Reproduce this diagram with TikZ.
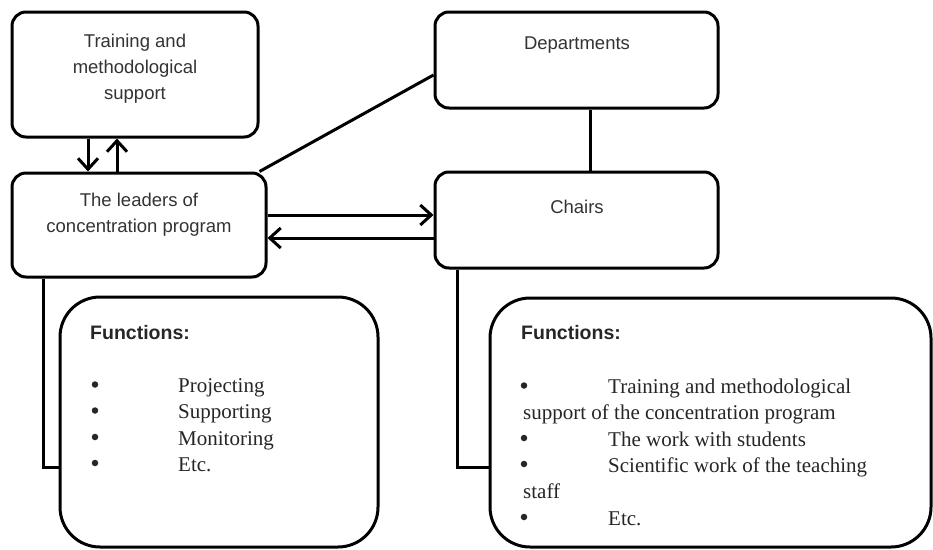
\documentclass[tikz,border=0pt]{standalone}
\usepackage{fontspec}
\setmainfont{Liberation Sans}
\newfontfamily\serifit{Liberation Serif}
\usetikzlibrary{arrows.meta}
\begin{document}
\begin{tikzpicture}[x=1pt,y=-1pt,
  box/.style={draw, line width=3pt, rounded corners=14pt, inner sep=0pt},
  funcbox/.style={box, rounded corners=40pt},
  lbl/.style={font=\fontsize{18.5}{26}\selectfont, align=center, text=black!80, inner sep=0pt},
  head/.style={font=\bfseries\fontsize{19.5}{23}\selectfont, anchor=west, inner sep=0pt, text=black!85},
  item/.style={font=\serifit\fontsize{21}{26}\selectfont, anchor=west, inner sep=0pt, text height=14pt, text depth=5pt, text=black!85},
  bul/.style={circle, fill=black!85, inner sep=0pt, minimum size=6.5pt, yshift=3.5pt},
  conn/.style={line width=3pt},
  arr/.style={conn, -{Straight Barb[length=11pt,width=20pt]}}]
\useasboundingbox (0,0) rectangle (933,549);
\fill[white] (0,0) rectangle (933,549);
% boxes
\node[box, minimum width=246pt, minimum height=125pt] (train) at (135,74.5) {};
\node[box, minimum width=254pt, minimum height=104pt] (lead) at (139,225) {};
\node[box, minimum width=283pt, minimum height=96pt] (dept) at (576.5,60) {};
\node[box, minimum width=283pt, minimum height=96pt] (chairs) at (576.5,220) {};
\node[funcbox, minimum width=318pt, minimum height=250pt] (funcL) at (219,422) {};
\node[funcbox, minimum width=441pt, minimum height=249pt] (funcR) at (710.5,422.5) {};
% labels
\node[lbl] (trainT) at (135,69) {Training and\\methodological\\support};
\node[lbl] (leadT) at (139,215) {The leaders of\\concentration program};
\node[lbl] (deptT) at (577,45) {Departments};
\node[lbl] (chairsT) at (577,207) {Chairs};
% left functions
\node[head] (fLh) at (90,333) {Functions:};
\node[bul] (bL1) at (95,388) {};
\node[item] (tL1) at (178,388) {Projecting};
\node[bul] (bL2) at (95,414) {};
\node[item] (tL2) at (178,414) {Supporting};
\node[bul] (bL3) at (95,440.5) {};
\node[item] (tL3) at (178,440.5) {Monitoring};
\node[bul] (bL4) at (95,466.5) {};
\node[item] (tL4) at (178,466.5) {Etc.};
% right functions
\node[head] (fRh) at (521,333) {Functions:};
\node[bul] (bR1) at (524,389) {};
\node[item] (tR1) at (608,389) {Training and methodological};
\node[item] (tR1b) at (523,415) {support of the concentration program};
\node[bul] (bR2) at (524,441.5) {};
\node[item] (tR2) at (608,441.5) {The work with students};
\node[bul] (bR3) at (524,467.5) {};
\node[item] (tR3) at (608,467.5) {Scientific work of the teaching};
\node[item] (tR3b) at (523,494) {staff};
\node[bul] (bR4) at (524,520.5) {};
\node[item] (tR4) at (608,520.5) {Etc.};
% connectors
\draw[arr] ([xshift=-47pt]train.south) -- ([xshift=-51pt]lead.north);
\draw[arr] ([xshift=-22pt]lead.north) -- ([xshift=-18pt]train.south);
\draw[conn] ([xshift=-8pt]lead.north east) -- ([yshift=-15pt]dept.west);
\draw[conn] ([xshift=13.5pt]dept.south) -- ([xshift=13.5pt]chairs.south |- chairs.north);
\draw[arr] ([yshift=10pt]lead.east) -- ([yshift=5pt]chairs.west);
\draw[arr] ([yshift=-18pt]chairs.west) -- ([yshift=-13pt]lead.east);
\coordinate (jL) at (43,467);
\draw[conn] (jL |- lead.south) -- (jL) -- (jL -| funcL.west);
\coordinate (jR) at (457,467);
\draw[conn] (jR |- chairs.south) -- (jR) -- (jR -| funcR.west);
\end{tikzpicture}
\end{document}
